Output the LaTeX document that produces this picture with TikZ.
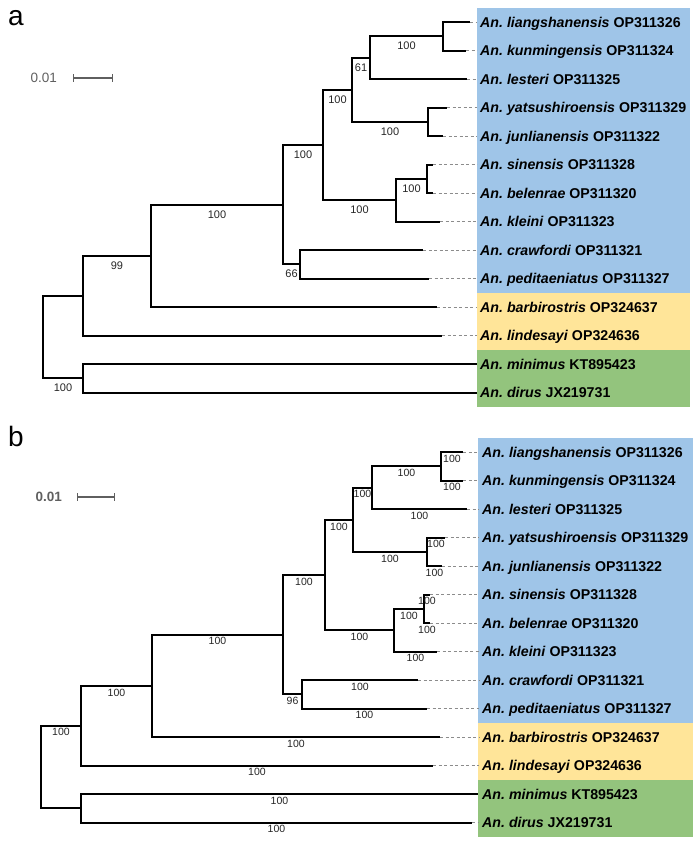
\documentclass[tikz,border=0pt]{standalone}
\usepackage{fontspec}
\setmainfont{Liberation Sans}
\usetikzlibrary{positioning}

\definecolor{cladeblue}{HTML}{9FC5E8}
\definecolor{cladeyellow}{HTML}{FFE599}
\definecolor{cladegreen}{HTML}{93C47D}
\definecolor{scalegray}{HTML}{5F5F5F}

\newcommand{\taxlabel}[2]{\textit{An.\ #1} #2}

\begin{document}
\begin{tikzpicture}[x=1pt,y=-1pt,
  tree/.style={every edge/.style={draw,line width=2pt,to path={|- (\tikztotarget) \tikztonodes}}},
  guide/.style={every edge/.style={draw=black!45,line width=0.9pt,dash pattern=on 3pt off 2.5pt}},
  taxon/.style={anchor=west,inner sep=0pt,text height=10pt,text depth=0pt,font=\fontsize{14.2}{16}\selectfont\bfseries},
  supa/.style={pos=.75,below=5pt,inner sep=0pt,text=black!85,font=\fontsize{11}{12}\selectfont},
  supb/.style={pos=.75,below=2pt,inner sep=0pt,text=black!85,font=\fontsize{10.5}{12}\selectfont},
  panel/.style={anchor=base west,inner sep=0pt,font=\fontsize{28}{30}\selectfont},
  scalebar/.style={draw=scalegray,line width=1.1pt,|-|},
  tick/.style={fill=scalegray,inner sep=0pt,minimum width=1pt,minimum height=2.5pt},
  scale text/.style={inner sep=0pt,text=scalegray,font=\fontsize{13.5}{15}\selectfont}]

\useasboundingbox (0,0) rectangle (700,847);

% ---------- panel a ----------
\node[panel] (pa) at (8,25) {a};

\fill[cladeblue] (477,7.75) rectangle (690,292.75);
\fill[cladeyellow] (477,292.75) rectangle (690,349.75);
\fill[cladegreen] (477,349.75) rectangle (690,406.75);

\coordinate (a-s0) at (73,78);
\coordinate (a-s1) at (113,78);
\draw[scalebar] (a-s0) -- (a-s1) node[midway,tick] {};
\node[scale text,left=16pt of a-s0] (a-scale) {0.01};

% internal nodes
\coordinate (a-root) at (43,336.9);
\coordinate (a-in) at (83,295.6);
\coordinate (a-out) at (83,378.25);
\coordinate (a-x) at (151,255.8);
\coordinate (a-y) at (283,204.6);
\coordinate (a-w) at (300,264.25);
\coordinate (a-z) at (323,144.9);
\coordinate (a-a) at (352,89.7);
\coordinate (a-c) at (370,57.6);
\coordinate (a-e) at (443,36.25);
\coordinate (a-d) at (428,121.75);
\coordinate (a-b) at (396,200.1);
\coordinate (a-f) at (427,178.75);

% tips
\coordinate (a-t0) at (470,22);
\coordinate (a-t1) at (466,50.5);
\coordinate (a-t2) at (467,79);
\coordinate (a-t3) at (447,107.5);
\coordinate (a-t4) at (443,136);
\coordinate (a-t5) at (433,164.5);
\coordinate (a-t6) at (433,193);
\coordinate (a-t7) at (440,221.5);
\coordinate (a-t8) at (423,250);
\coordinate (a-t9) at (429,278.5);
\coordinate (a-t10) at (437,307);
\coordinate (a-t11) at (442,335.5);
\coordinate (a-t12) at (477,364);
\coordinate (a-t13) at (477,392.5);

\node[taxon] (a-l0) at (480,22) {\taxlabel{liangshanensis}{OP311326}};
\node[taxon] (a-l1) at (480,50.5) {\taxlabel{kunmingensis}{OP311324}};
\node[taxon] (a-l2) at (480,79) {\taxlabel{lesteri}{OP311325}};
\node[taxon] (a-l3) at (480,107.5) {\taxlabel{yatsushiroensis}{OP311329}};
\node[taxon] (a-l4) at (480,136) {\taxlabel{junlianensis}{OP311322}};
\node[taxon] (a-l5) at (480,164.5) {\taxlabel{sinensis}{OP311328}};
\node[taxon] (a-l6) at (480,193) {\taxlabel{belenrae}{OP311320}};
\node[taxon] (a-l7) at (480,221.5) {\taxlabel{kleini}{OP311323}};
\node[taxon] (a-l8) at (480,250) {\taxlabel{crawfordi}{OP311321}};
\node[taxon] (a-l9) at (480,278.5) {\taxlabel{peditaeniatus}{OP311327}};
\node[taxon] (a-l10) at (480,307) {\taxlabel{barbirostris}{OP324637}};
\node[taxon] (a-l11) at (480,335.5) {\taxlabel{lindesayi}{OP324636}};
\node[taxon] (a-l12) at (480,364) {\taxlabel{minimus}{KT895423}};
\node[taxon] (a-l13) at (480,392.5) {\taxlabel{dirus}{JX219731}};

\path[tree]
  (a-root) edge (a-in)
           edge node[supa] {100} (a-out)
  (a-in) edge node[supa] {99} (a-x)
         edge (a-t11)
  (a-x) edge node[supa] {100} (a-y)
        edge (a-t10)
  (a-y) edge node[supa] {100} (a-z)
        edge node[supa] {66} (a-w)
  (a-w) edge (a-t8)
        edge (a-t9)
  (a-z) edge node[supa] {100} (a-a)
        edge node[supa] {100} (a-b)
  (a-a) edge node[supa] {61} (a-c)
        edge node[supa] {100} (a-d)
  (a-c) edge node[supa] {100} (a-e)
        edge (a-t2)
  (a-e) edge (a-t0)
        edge (a-t1)
  (a-d) edge (a-t3)
        edge (a-t4)
  (a-b) edge node[supa] {100} (a-f)
        edge (a-t7)
  (a-f) edge (a-t5)
        edge (a-t6)
  (a-out) edge (a-t12)
          edge (a-t13);

\path[guide]
  (a-t0) edge ([xshift=-3pt]a-l0.west)
  (a-t1) edge ([xshift=-3pt]a-l1.west)
  (a-t2) edge ([xshift=-3pt]a-l2.west)
  (a-t3) edge ([xshift=-3pt]a-l3.west)
  (a-t4) edge ([xshift=-3pt]a-l4.west)
  (a-t5) edge ([xshift=-3pt]a-l5.west)
  (a-t6) edge ([xshift=-3pt]a-l6.west)
  (a-t7) edge ([xshift=-3pt]a-l7.west)
  (a-t8) edge ([xshift=-3pt]a-l8.west)
  (a-t9) edge ([xshift=-3pt]a-l9.west)
  (a-t10) edge ([xshift=-3pt]a-l10.west)
  (a-t11) edge ([xshift=-3pt]a-l11.west);

% ---------- panel b ----------
\node[panel] (pb) at (8,446) {b};

\fill[cladeblue] (478,437.75) rectangle (693,722.75);
\fill[cladeyellow] (478,722.75) rectangle (693,779.75);
\fill[cladegreen] (478,779.75) rectangle (693,836.75);

\coordinate (b-s0) at (77,497);
\coordinate (b-s1) at (115,497);
\draw[scalebar] (b-s0) -- (b-s1) node[midway,tick] {};
\node[scale text,font=\fontsize{13.5}{15}\selectfont\bfseries,left=15pt of b-s0] (b-scale) {0.01};

% internal nodes
\coordinate (b-root) at (41,766.9);
\coordinate (b-in) at (81,725.6);
\coordinate (b-out) at (81,808.25);
\coordinate (b-x) at (152,685.8);
\coordinate (b-y) at (283,634.6);
\coordinate (b-w) at (302,694.25);
\coordinate (b-z) at (325,574.9);
\coordinate (b-p) at (353,519.7);
\coordinate (b-r) at (372,487.6);
\coordinate (b-e) at (441,466.25);
\coordinate (b-d) at (427,551.75);
\coordinate (b-q) at (394,630.1);
\coordinate (b-f) at (424,608.75);

% tips
\coordinate (b-t0) at (463,452);
\coordinate (b-t1) at (463,480.5);
\coordinate (b-t2) at (467,509);
\coordinate (b-t3) at (445,537.5);
\coordinate (b-t4) at (442,566);
\coordinate (b-t5) at (430,594.5);
\coordinate (b-t6) at (430,623);
\coordinate (b-t7) at (437,651.5);
\coordinate (b-t8) at (418,680);
\coordinate (b-t9) at (427,708.5);
\coordinate (b-t10) at (440,737);
\coordinate (b-t11) at (433,765.5);
\coordinate (b-t12) at (478,794);
\coordinate (b-t13) at (472,822.5);

\node[taxon] (b-l0) at (482,452) {\taxlabel{liangshanensis}{OP311326}};
\node[taxon] (b-l1) at (482,480.5) {\taxlabel{kunmingensis}{OP311324}};
\node[taxon] (b-l2) at (482,509) {\taxlabel{lesteri}{OP311325}};
\node[taxon] (b-l3) at (482,537.5) {\taxlabel{yatsushiroensis}{OP311329}};
\node[taxon] (b-l4) at (482,566) {\taxlabel{junlianensis}{OP311322}};
\node[taxon] (b-l5) at (482,594.5) {\taxlabel{sinensis}{OP311328}};
\node[taxon] (b-l6) at (482,623) {\taxlabel{belenrae}{OP311320}};
\node[taxon] (b-l7) at (482,651.5) {\taxlabel{kleini}{OP311323}};
\node[taxon] (b-l8) at (482,680) {\taxlabel{crawfordi}{OP311321}};
\node[taxon] (b-l9) at (482,708.5) {\taxlabel{peditaeniatus}{OP311327}};
\node[taxon] (b-l10) at (482,737) {\taxlabel{barbirostris}{OP324637}};
\node[taxon] (b-l11) at (482,765.5) {\taxlabel{lindesayi}{OP324636}};
\node[taxon] (b-l12) at (482,794) {\taxlabel{minimus}{KT895423}};
\node[taxon] (b-l13) at (482,822.5) {\taxlabel{dirus}{JX219731}};

\path[tree]
  (b-root) edge node[supb] {100} (b-in)
           edge (b-out)
  (b-out) edge node[supb] {100} (b-t12)
          edge node[supb] {100} (b-t13)
  (b-in) edge node[supb] {100} (b-x)
         edge node[supb] {100} (b-t11)
  (b-x) edge node[supb] {100} (b-y)
        edge node[supb] {100} (b-t10)
  (b-y) edge node[supb] {100} (b-z)
        edge node[supb] {96} (b-w)
  (b-w) edge node[supb] {100} (b-t8)
        edge node[supb] {100} (b-t9)
  (b-z) edge node[supb] {100} (b-p)
        edge node[supb] {100} (b-q)
  (b-p) edge node[supb] {100} (b-r)
        edge node[supb] {100} (b-d)
  (b-r) edge node[supb] {100} (b-e)
        edge node[supb] {100} (b-t2)
  (b-e) edge node[supb] {100} (b-t0)
        edge node[supb] {100} (b-t1)
  (b-d) edge node[supb] {100} (b-t3)
        edge node[supb] {100} (b-t4)
  (b-q) edge node[supb] {100} (b-f)
        edge node[supb] {100} (b-t7)
  (b-f) edge node[supb] {100} (b-t5)
        edge node[supb] {100} (b-t6);

\path[guide]
  (b-t0) edge ([xshift=-3pt]b-l0.west)
  (b-t1) edge ([xshift=-3pt]b-l1.west)
  (b-t2) edge ([xshift=-3pt]b-l2.west)
  (b-t3) edge ([xshift=-3pt]b-l3.west)
  (b-t4) edge ([xshift=-3pt]b-l4.west)
  (b-t5) edge ([xshift=-3pt]b-l5.west)
  (b-t6) edge ([xshift=-3pt]b-l6.west)
  (b-t7) edge ([xshift=-3pt]b-l7.west)
  (b-t8) edge ([xshift=-3pt]b-l8.west)
  (b-t9) edge ([xshift=-3pt]b-l9.west)
  (b-t10) edge ([xshift=-3pt]b-l10.west)
  (b-t11) edge ([xshift=-3pt]b-l11.west)
  (b-t13) edge ([xshift=-3pt]b-l13.west);

\end{tikzpicture}
\end{document}
